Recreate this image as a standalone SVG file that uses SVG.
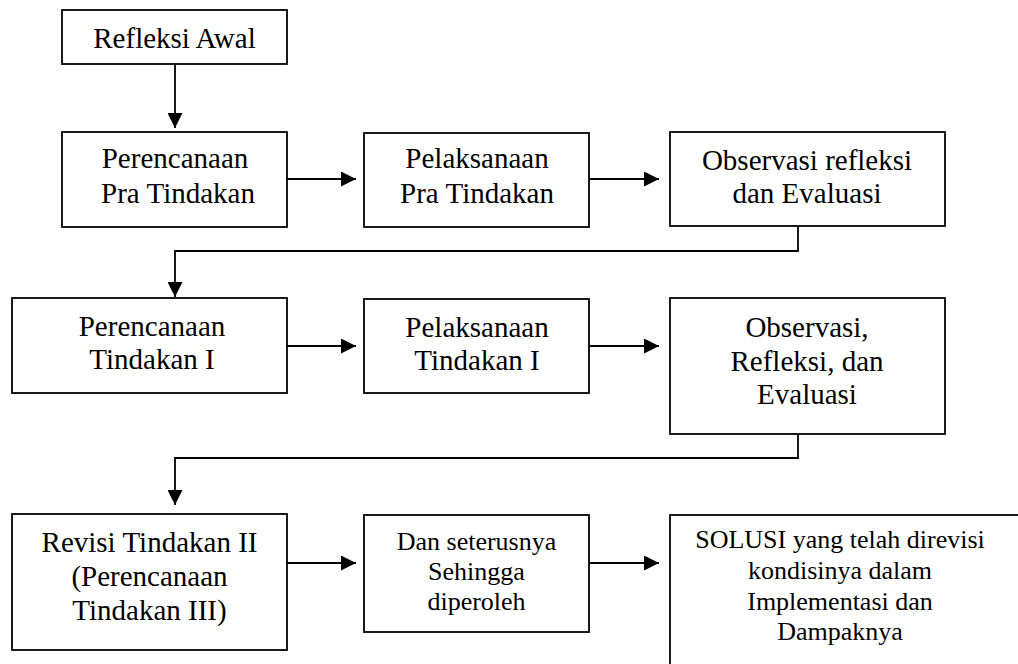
<svg xmlns="http://www.w3.org/2000/svg" width="1018" height="664" viewBox="0 0 1018 664">
<style>
.box{fill:#fff;stroke:#000;stroke-width:1.8}
text{font-family:'Liberation Serif','Times New Roman','DejaVu Serif',serif;font-size:29px;fill:#000;text-anchor:middle}
text.s{font-size:26px}
.c{fill:none;stroke:#000;stroke-width:1.8}
</style>
<defs>
<marker id="ah" markerUnits="userSpaceOnUse" markerWidth="15" markerHeight="15" refX="15" refY="7.5" orient="auto">
<path d="M0,0 L15,7.5 L0,15 z" fill="#000"/>
</marker>
</defs>
<g id="connectors">
<path class="c" d="M175,64 V128" marker-end="url(#ah)"/>
<path class="c" d="M287,179 H356" marker-end="url(#ah)"/>
<path class="c" d="M589,179 H659" marker-end="url(#ah)"/>
<path class="c" d="M798,226 V251 H175 V297" marker-end="url(#ah)"/>
<path class="c" d="M287,346 H356" marker-end="url(#ah)"/>
<path class="c" d="M589,346 H659" marker-end="url(#ah)"/>
<path class="c" d="M798,434 V458 H175 V505" marker-end="url(#ah)"/>
<path class="c" d="M287,563 H356" marker-end="url(#ah)"/>
<path class="c" d="M589,563 H659" marker-end="url(#ah)"/>
</g>
<g font-family="Liberation Serif, serif">
<g id="n1"><rect class="box" x="62" y="10" width="225" height="54"/><text x="174.5" y="48">Refleksi Awal</text></g>
<g id="n2"><rect class="box" x="62" y="132" width="225" height="95"/><text x="175" y="168">Perencanaan</text><text x="178" y="203"> Pra Tindakan</text></g>
<g id="n3"><rect class="box" x="364" y="133" width="225" height="94"/><text x="477" y="168">Pelaksanaan</text><text x="477" y="203">Pra Tindakan</text></g>
<g id="n4"><rect class="box" x="670" y="132" width="275" height="94"/><text x="807" y="170">Observasi refleksi</text><text x="807" y="203">dan Evaluasi</text></g>
<g id="n5"><rect class="box" x="12" y="298" width="275" height="95"/><text x="152" y="336">Perencanaan</text><text x="152" y="369">Tindakan I</text></g>
<g id="n6"><rect class="box" x="364" y="299" width="225" height="94"/><text x="477" y="337">Pelaksanaan</text><text x="477" y="370">Tindakan I</text></g>
<g id="n7"><rect class="box" x="670" y="298" width="275" height="136"/><text x="807" y="337">Observasi,</text><text x="807" y="371">Refleksi, dan</text><text x="807" y="404">Evaluasi</text></g>
<g id="n8"><rect class="box" x="12" y="514" width="275" height="136"/><text x="149.5" y="552">Revisi Tindakan II</text><text x="149.5" y="586">(Perencanaan</text><text x="149.5" y="620">Tindakan III)</text></g>
<g id="n9"><rect class="box" x="364" y="515" width="225" height="117"/><text class="s" x="476.5" y="550">Dan seterusnya</text><text class="s" x="476.5" y="580">Sehingga</text><text class="s" x="476.5" y="610">diperoleh</text></g>
<g id="n10"><rect class="box" x="670" y="515" width="360" height="160"/><text class="s" x="840" y="548">SOLUSI yang telah direvisi</text><text class="s" x="840" y="579">kondisinya dalam</text><text class="s" x="840" y="610">Implementasi dan</text><text class="s" x="840" y="640">Dampaknya</text></g>
</g>
</svg>
